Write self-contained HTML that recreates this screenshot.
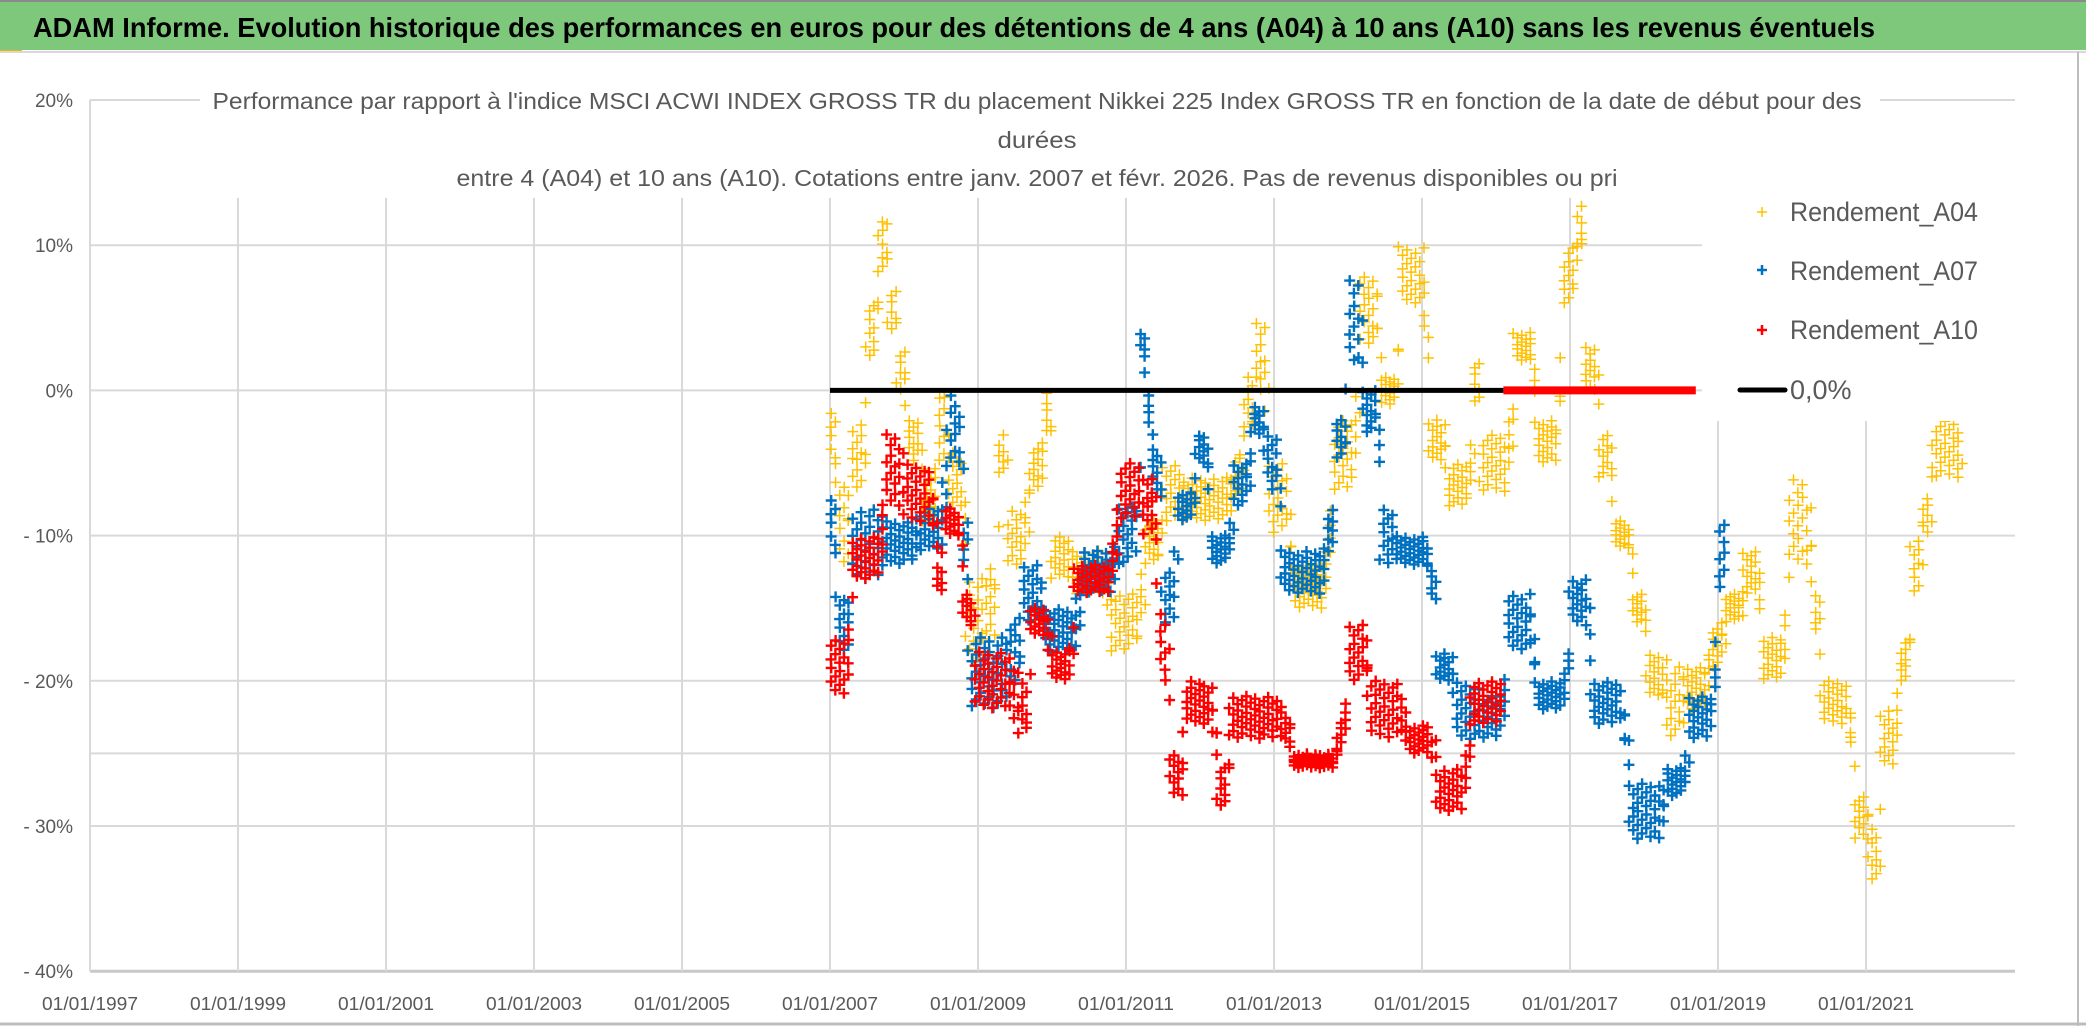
<!DOCTYPE html>
<html><head><meta charset="utf-8">
<style>
html,body{margin:0;padding:0;background:#fff;}
svg{display:block;}
text{font-family:"Liberation Sans",sans-serif;}
</style></head>
<body>
<svg id="chart" width="2086" height="1031" viewBox="0 0 2086 1031" xmlns="http://www.w3.org/2000/svg">
  <rect x="0" y="0" width="2086" height="1031" fill="#fff"/>
  <rect x="0" y="0" width="2086" height="50" fill="#7ec87c"/>
  <line x1="0" y1="1" x2="2086" y2="1" stroke="#8a8a8a" stroke-width="2"/>
  <text x="33" y="37" font-size="28" font-weight="bold" fill="#000" textLength="1842" lengthAdjust="spacingAndGlyphs">ADAM Informe. Evolution historique des performances en euros pour des détentions de 4 ans (A04) à 10 ans (A10) sans les revenus éventuels</text>
  <rect x="0" y="50" width="22" height="3" fill="#f0b400"/>
  <line x1="0" y1="52" x2="2086" y2="52" stroke="#d9d9d9" stroke-width="2"/>
  <line x1="2078" y1="52" x2="2078" y2="1026" stroke="#bdbdbd" stroke-width="2"/>
  <line x1="0" y1="1024" x2="2086" y2="1024" stroke="#bdbdbd" stroke-width="3"/>
  <g id="grid"></g>
  <g id="marks"></g>
  <rect x="200" y="84" width="1680" height="114" fill="#fff"/>
  <g fill="#595959" font-size="23">
    <text x="1037" y="109" text-anchor="middle" textLength="1649" lengthAdjust="spacingAndGlyphs">Performance  par rapport à l'indice MSCI ACWI INDEX GROSS TR  du placement Nikkei 225 Index GROSS TR en fonction de la date de début pour des</text>
    <text x="1037" y="148" text-anchor="middle" textLength="79" lengthAdjust="spacingAndGlyphs">durées</text>
    <text x="1037" y="186" text-anchor="middle" textLength="1161" lengthAdjust="spacingAndGlyphs">entre 4 (A04) et 10 ans (A10). Cotations entre janv. 2007 et févr. 2026. Pas de revenus disponibles ou pri</text>
  </g>
  <rect x="1702" y="178" width="313" height="243" fill="#fff"/>
  <g font-size="27" fill="#595959">
    <g>
      <path d="M1757 212h10M1762 207v10" stroke="#ffc000" stroke-width="1.5"/>
      <text x="1790" y="221" textLength="188" lengthAdjust="spacingAndGlyphs">Rendement_A04</text>
    </g>
    <g>
      <path d="M1757 270h10M1762 265v10" stroke="#0070c0" stroke-width="2.5"/>
      <text x="1790" y="280" textLength="188" lengthAdjust="spacingAndGlyphs">Rendement_A07</text>
    </g>
    <g>
      <path d="M1757 330h10M1762 325v10" stroke="#ff0000" stroke-width="2.5"/>
      <text x="1790" y="339" textLength="188" lengthAdjust="spacingAndGlyphs">Rendement_A10</text>
    </g>
    <g>
      <line x1="1740" y1="390" x2="1785" y2="390" stroke="#000" stroke-width="5" stroke-linecap="round"/>
      <text x="1790" y="399">0,0%</text>
    </g>
  </g>
  <g id="axes"></g>
</svg>
<script>
const yTicks = [20, 10, 0, -10, -20, -30, -40];
const yTickLabels = ["20%", "10%", "0%", "- 10%", "- 20%", "- 30%", "- 40%"];
const extraGrid = [-25];
const xTickYears = [1997, 1999, 2001, 2003, 2005, 2007, 2009, 2011, 2013, 2015, 2017, 2019, 2021];
const xTickLabels = ["01/01/1997","01/01/1999","01/01/2001","01/01/2003","01/01/2005","01/01/2007","01/01/2009","01/01/2011","01/01/2013","01/01/2015","01/01/2017","01/01/2019","01/01/2021"];

const a04Start = [2007.0,2007.1,2007.3,2007.5,2007.65,2007.8,2007.92,2008.05,2008.25,2008.45,2008.6,2008.85,2009.1,2009.28,2009.4,2009.7,2009.9,2010.0,2010.3,2010.8,2011.25,2011.5,2011.8,2012.6,2012.75,2012.93,2013.25,2013.8,2014.15,2014.45,2014.7,2015.1,2015.35,2015.7,2015.8,2016.25,2016.55,2016.9,2017.1,2017.2,2017.4,2017.6,2017.85,2018.05,2018.3,2018.55,2018.9,2019.1,2019.35,2019.6,2019.95,2020.3,2020.4,2020.85,2021.05,2021.2,2021.45,2021.62,2021.78,2021.9];
const a04Lo = [-5,-12,-7,2,8,4,0,-5,-9,-5,-8,-19,-17,-6,-12,-7,-3,-13,-14,-18,-12,-9,-9,-3,0,-10,-15,-7,3,-1,6,-5,-8,-1,-7,2,-5,6,10,0,-6,-11,-16,-21,-24,-22,-19,-16,-14,-20,-12,-17,-23,-31,-34,-26,-20,-14,-10,-6];
const a04Hi = [-1,-6,-2,6,12,7,3,-2,-6,0,-4,-13,-12,-3,-8,-4,0,-10,-11,-14,-9,-5,-6,1,5,-5,-12,-2,8,1,10,-2,-5,2,-3,4,-2,10,13,3,-3,-9,-14,-18,-19,-19,-16,-14,-11,-17,-6,-14,-20,-28,-30,-22,-17,-10,-7,-2];
const a04End = 2022.3;

const a07Start = [2007.0,2007.1,2007.3,2007.75,2008.2,2008.6,2008.8,2008.88,2009.45,2009.6,2009.9,2010.4,2010.9,2011.2,2011.28,2011.35,2011.5,2011.7,2011.95,2012.15,2012.45,2012.7,2012.9,2013.1,2013.83,2014.0,2014.2,2014.45,2014.65,2015.2,2015.45,2015.8,2016.15,2016.55,2017.0,2017.3,2017.8,2018.3,2018.6,2019.0];
const a07Lo = [-11,-18,-13,-12,-11,-5,-12,-22,-20,-16,-18,-14,-12,2,-3,-7,-16,-9,-5,-12,-8,-3,-7,-14,-5,2,-3,-12,-12,-20,-24,-24,-18,-22,-16,-23,-31,-28,-24,-14];
const a07Hi = [-7,-14,-8,-9,-8,0,-9,-17,-15,-12,-15,-11,-8,4,0,-4,-12,-7,-3,-10,-5,-1,-3,-11,-2,8,0,-8,-10,-18,-20,-21,-14,-20,-13,-20,-27,-26,-21,-9];
const a07End = 2019.12;

const a10Start = [2007.0,2007.3,2007.75,2008.0,2008.45,2008.55,2008.8,2008.95,2009.55,2009.7,2010.0,2010.3,2010.9,2011.25,2011.45,2011.6,2011.8,2012.25,2012.4,2013.25,2014.0,2014.3,2014.8,2015.2,2015.65];
const a10Lo = [-21,-13,-8,-9,-14,-10,-16,-22,-24,-17,-20,-14,-9,-10,-20,-28,-23,-29,-24,-26,-20,-24,-25,-29,-23];
const a10Hi = [-17,-10,-3,-5,-12,-8,-14,-18,-20,-15,-18,-12,-5,-6,-15,-25,-20,-26,-21,-25,-16,-20,-23,-26,-20];
const a10End = 2016.1;

const zeroBlack = [2007.0, 2016.1];
const zeroRed = [2016.1, 2018.7];
const zeroValue = 0;

const X0 = 90, PX_PER_YEAR = 74, YEAR0 = 1997, XMAX = 2015;
const Y_TOP = 100, PX_PER_PCT = 14.52;
function xs(yr){ return X0 + (yr - YEAR0) * PX_PER_YEAR; }
function ys(v){ return Y_TOP + (20 - v) * PX_PER_PCT; }

const NS = "http://www.w3.org/2000/svg";
const grid = document.getElementById('grid');
const axes = document.getElementById('axes');
const marks = document.getElementById('marks');

yTicks.concat(extraGrid).forEach(function(v){
  const l = document.createElementNS(NS,'line');
  
  
  l.setAttribute('x1', X0); l.setAttribute('x2', XMAX);
  l.setAttribute('y1', ys(v)); l.setAttribute('y2', ys(v));
  l.setAttribute('stroke', v === -40 ? '#c8c8c8' : '#d9d9d9');
  l.setAttribute('stroke-width', v === -40 ? 3 : 2);
  grid.appendChild(l);
});
xTickYears.forEach(function(yr){
  const l = document.createElementNS(NS,'line');
  
  
  l.setAttribute('x1', xs(yr)); l.setAttribute('x2', xs(yr));
  l.setAttribute('y1', ys(20)); l.setAttribute('y2', ys(-40));
  l.setAttribute('stroke', '#d9d9d9');
  l.setAttribute('stroke-width', 2);
  grid.appendChild(l);
});
yTicks.forEach(function(v,i){
  const t = document.createElementNS(NS,'text');
  
  
  t.setAttribute('x', 73); t.setAttribute('y', ys(v) + 7);
  t.setAttribute('text-anchor','end');
  t.setAttribute('font-size','19');
  t.setAttribute('fill','#595959');
  t.textContent = yTickLabels[i];
  axes.appendChild(t);
});
xTickYears.forEach(function(yr,i){
  const t = document.createElementNS(NS,'text');
  
  
  t.setAttribute('x', xs(yr) - 48); t.setAttribute('y', 1010);
  t.setAttribute('font-size','18');
  t.setAttribute('fill','#595959');
  t.setAttribute('textLength','96');
  t.setAttribute('lengthAdjust','spacingAndGlyphs');
  t.textContent = xTickLabels[i];
  axes.appendChild(t);
});

function drawSeries(name, starts, los, his, endYr, color, sw, perYear){
  const g = document.createElementNS(NS,'g');
  
  
  let d = '';
  let k = 1;
  for (let i = 0; i < starts.length; i++){
    const s = starts[i], e = (i + 1 < starts.length) ? starts[i+1] : endYr;
    const nLo = (i + 1 < starts.length) ? los[i+1] : los[i];
    const nHi = (i + 1 < starts.length) ? his[i+1] : his[i];
    const n = Math.max(3, Math.round((e - s) * perYear));
    for (let j = 0; j < n; j++){
      const u = j / n;
      const yr = s + (e - s) * u;
      const w = u < 0.75 ? 0 : (u - 0.75) / 0.25 * 0.5;
      const lo = los[i] + (nLo - los[i]) * w;
      const hi = his[i] + (nHi - his[i]) * w;
      const f = (k * 0.6180339887) % 1;
      const fx = ((k * 0.7548776662) % 1) - 0.5;
      k++;
      const v = lo + (hi - lo) * f;
      const x = xs(yr) + fx * 4, y = ys(v);
      d += 'M' + (x-5.5).toFixed(1) + ' ' + y.toFixed(1) + 'h11M' + x.toFixed(1) + ' ' + (y-5.5).toFixed(1) + 'v11';
    }
  }
  const p = document.createElementNS(NS,'path');
  
  
  p.setAttribute('d', d);
  p.setAttribute('stroke', color);
  p.setAttribute('stroke-width', sw);
  p.setAttribute('fill','none');
  g.appendChild(p);
  marks.appendChild(g);
}
drawSeries('series-a04', a04Start, a04Lo, a04Hi, a04End, '#ffc000', 1.5, 70);
drawSeries('series-a07', a07Start, a07Lo, a07Hi, a07End, '#0070c0', 2.4, 70);
drawSeries('series-a10', a10Start, a10Lo, a10Hi, a10End, '#ff0000', 2.4, 70);

const zb = document.createElementNS(NS,'line');


zb.setAttribute('x1', xs(zeroBlack[0])); zb.setAttribute('x2', xs(zeroBlack[1]));
zb.setAttribute('y1', ys(zeroValue)); zb.setAttribute('y2', ys(zeroValue));
zb.setAttribute('stroke','#000'); zb.setAttribute('stroke-width', 5);
marks.appendChild(zb);
const zr = document.createElementNS(NS,'line');


zr.setAttribute('x1', xs(zeroRed[0])); zr.setAttribute('x2', xs(zeroRed[1]));
zr.setAttribute('y1', ys(zeroValue)); zr.setAttribute('y2', ys(zeroValue));
zr.setAttribute('stroke','#ff0000'); zr.setAttribute('stroke-width', 8);
marks.appendChild(zr);
</script>
</body></html>
